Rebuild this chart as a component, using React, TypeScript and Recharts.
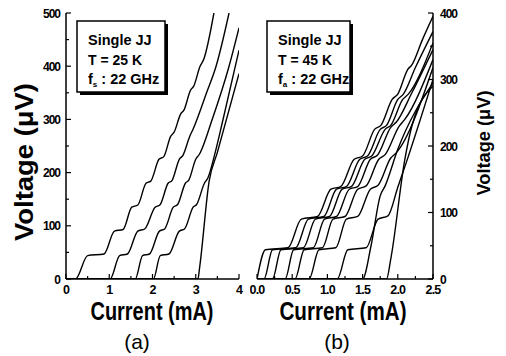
import React from 'react';
import { LineChart, Line, XAxis, YAxis } from 'recharts';

// ---------- axis ticks / labels ----------
const aXTicks = [0, 0.5, 1, 1.5, 2, 2.5, 3, 3.5, 4];
const aXLabels = [0, 1, 2, 3, 4];
const aYTicks = [0, 50, 100, 150, 200, 250, 300, 350, 400, 450, 500];
const aYLabels = [0, 100, 200, 300, 400, 500];
const bXTicks = [0, 0.25, 0.5, 0.75, 1, 1.25, 1.5, 1.75, 2, 2.25, 2.5];
const bXLabels = [0, 0.5, 1, 1.5, 2, 2.5];
const bYTicks = [0, 50, 100, 150, 200, 250, 300, 350, 400];
const bYLabels = [0, 100, 200, 300, 400];

// ---------- panel (a): T = 25 K, current (mA) vs voltage (uV) ----------
const a1: [number, number][] = [
  [0, 0], [0.22, 0], [0.5, 44], [0.88, 47], [1.12, 90], [1.32, 93], [1.52, 135], [1.66, 139],
  [1.85, 180], [1.96, 184], [2.15, 225], [2.26, 230], [2.42, 268], [2.5, 276], [2.65, 310],
  [2.73, 318], [2.88, 355], [2.95, 362], [3.1, 400], [3.18, 412], [3.42, 500],
];
const a2: [number, number][] = [
  [0, 0], [1.02, 0], [1.24, 44], [1.42, 47], [1.66, 90], [1.82, 94], [2.06, 135], [2.17, 139],
  [2.36, 180], [2.45, 185], [2.62, 225], [2.7, 232], [2.86, 268], [2.94, 282], [3.25, 350],
  [3.47, 400], [3.77, 500],
];
const a3: [number, number][] = [
  [0, 0], [1.6, 0], [1.77, 44], [1.93, 47], [2.16, 90], [2.28, 94], [2.48, 135], [2.58, 140],
  [2.76, 180], [2.84, 186], [3.0, 225], [3.08, 234], [3.38, 300], [3.77, 400], [4.0, 472],
];
const a4: [number, number][] = [
  [0, 0], [2.02, 0], [2.18, 44], [2.38, 47], [2.62, 90], [2.74, 94], [2.94, 135], [3.02, 140],
  [3.2, 180], [3.28, 190], [3.45, 238], [3.62, 296], [4.0, 430],
];
const a5: [number, number][] = [
  [0, 0], [3.05, 0], [3.09, 22], [3.31, 184], [3.5, 238], [4.0, 386],
];
const aCurves = [a1, a2, a3, a4, a5];

// ---------- panel (b): T = 45 K ----------
const b1: [number, number][] = [
  [0, 0], [0.12, 44], [0.44, 47], [0.63, 90], [0.86, 94], [1.05, 135], [1.19, 139], [1.38, 180],
  [1.5, 185], [1.67, 225], [1.76, 231], [1.92, 270], [2.0, 278], [2.14, 315], [2.2, 322],
  [2.35, 360], [2.5, 395],
];
const b2: [number, number][] = [
  [0, 0], [0.1, 0], [0.22, 44], [0.55, 47], [0.73, 90], [0.95, 94], [1.13, 135], [1.27, 139],
  [1.46, 180], [1.57, 185], [1.75, 225], [1.84, 231], [2.0, 270], [2.08, 278], [2.25, 318],
  [2.5, 372],
];
const b3: [number, number][] = [
  [0, 0], [0.22, 0], [0.34, 44], [0.66, 47], [0.83, 90], [1.03, 94], [1.21, 135], [1.34, 139],
  [1.53, 180], [1.63, 185], [1.82, 225], [1.9, 231], [2.07, 270], [2.15, 278], [2.5, 355],
];
const b4: [number, number][] = [
  [0, 0], [0.4, 0], [0.52, 44], [0.8, 47], [0.96, 90], [1.13, 94], [1.31, 135], [1.43, 139],
  [1.61, 180], [1.71, 186], [1.9, 228], [1.98, 236], [2.2, 280], [2.5, 345],
];
const b5: [number, number][] = [
  [0, 0], [0.54, 0], [0.67, 44], [0.93, 47], [1.08, 90], [1.25, 94], [1.43, 135], [1.55, 140],
  [1.73, 180], [1.82, 187], [2.02, 230], [2.1, 240], [2.5, 330],
];
const b6: [number, number][] = [
  [0, 0], [0.74, 0], [0.88, 44], [1.12, 47], [1.27, 90], [1.43, 94], [1.61, 135], [1.72, 141],
  [1.9, 182], [1.98, 190], [2.5, 318],
];
const b7: [number, number][] = [
  [0, 0], [1.14, 0], [1.29, 44], [1.55, 47], [1.72, 90], [1.86, 95], [2.0, 138], [2.12, 175],
  [2.5, 300],
];
const b8: [number, number][] = [
  [0, 0], [1.5, 0], [1.62, 50], [1.75, 125], [1.82, 140], [2.0, 195], [2.5, 295],
];
const b9: [number, number][] = [
  [0, 0], [1.84, 0], [1.9, 30], [2.1, 180], [2.2, 230], [2.5, 290],
];
const bCurves = [b1, b2, b3, b4, b5, b6, b7, b8, b9];

const toRows = (pts: [number, number][]) => pts.map(([i, v]) => ({ i, v }));

const F = "'Liberation Sans', Arial, Helvetica, sans-serif";
const isMajor = (labels: number[], v: number) => labels.some((l) => Math.abs(l - v) < 1e-9);

const makeXTick = (labels: number[], digits: number, side: 'bottom' | 'top') => (props: any) => {
  const { x, y, payload } = props;
  const v = payload.value as number;
  const major = isMajor(labels, v);
  const len = major ? 5 : 3;
  const dir = side === 'bottom' ? -1 : 1;
  return (
    <g>
      <line x1={x} y1={y} x2={x} y2={y + dir * len} stroke="#000" strokeWidth={1.2} />
      {side === 'bottom' && major ? (
        <text x={x} y={y + 15} textAnchor="middle" fontFamily={F} fontWeight="bold" fontSize={12.5} letterSpacing={-0.8} fill="#000">
          {v.toFixed(digits)}
        </text>
      ) : null}
    </g>
  );
};

const makeYTick = (labels: number[], side: 'left' | 'right', showLabel: boolean) => (props: any) => {
  const { x, y, payload } = props;
  const v = payload.value as number;
  const major = isMajor(labels, v);
  const len = major ? 5 : 3;
  const dir = side === 'left' ? 1 : -1;
  return (
    <g>
      <line x1={x} y1={y} x2={x + dir * len} y2={y} stroke="#000" strokeWidth={1.2} />
      {showLabel && major ? (
        <text
          x={side === 'left' ? x - 6 : x + 7}
          y={y + 4.5}
          textAnchor={side === 'left' ? 'end' : 'start'}
          fontFamily={F}
          fontWeight="bold"
          fontSize={12}
          letterSpacing={-1}
          fill="#000"
        >
          {v}
        </text>
      ) : null}
    </g>
  );
};

const axisLine = { stroke: '#000', strokeWidth: 1.5 };

export default function App() {
  return (
    <div style={{ position: 'absolute', left: 0, top: 0, width: 506, height: 356, background: '#fff', overflow: 'hidden' }}>
      {/* Panel (a) */}
      <div style={{ position: 'absolute', left: 0, top: 0 }}>
        <LineChart width={250} height={356} margin={{ top: 13, right: 11, bottom: 53, left: 0 }}>
          <XAxis xAxisId="b" dataKey="i" type="number" domain={[0, 4]} ticks={aXTicks} interval={0} height={24}
            tickSize={0} tickMargin={0} tickLine={false} axisLine={axisLine} allowDataOverflow tick={makeXTick(aXLabels, 0, 'bottom')} />
          <XAxis xAxisId="t" orientation="top" dataKey="i" type="number" domain={[0, 4]} ticks={aXTicks} interval={0} height={0}
            tickSize={0} tickMargin={0} tickLine={false} axisLine={axisLine} allowDataOverflow tick={makeXTick(aXLabels, 0, 'top')} />
          <YAxis yAxisId="l" type="number" domain={[0, 500]} ticks={aYTicks} interval={0} width={66}
            tickSize={0} tickMargin={0} tickLine={false} axisLine={axisLine} allowDataOverflow tick={makeYTick(aYLabels, 'left', true)} />
          <YAxis yAxisId="r" orientation="right" type="number" domain={[0, 500]} ticks={aYTicks} interval={0} width={0}
            tickSize={0} tickMargin={0} tickLine={false} axisLine={axisLine} allowDataOverflow tick={makeYTick(aYLabels, 'right', false)} />
          {aCurves.map((c, k) => (
            <Line key={k} xAxisId="b" yAxisId="l" data={toRows(c)} dataKey="v" type="monotone" stroke="#000"
              strokeWidth={1.4} dot={false} activeDot={false} isAnimationActive={false} />
          ))}
        </LineChart>
      </div>

      {/* Panel (b) */}
      <div style={{ position: 'absolute', left: 250, top: 0 }}>
        <LineChart width={256} height={356} margin={{ top: 13, right: 33, bottom: 53, left: 7 }}>
          <XAxis xAxisId="b" dataKey="i" type="number" domain={[0, 2.5]} ticks={bXTicks} interval={0} height={24}
            tickSize={0} tickMargin={0} tickLine={false} axisLine={axisLine} allowDataOverflow tick={makeXTick(bXLabels, 1, 'bottom')} />
          <XAxis xAxisId="t" orientation="top" dataKey="i" type="number" domain={[0, 2.5]} ticks={bXTicks} interval={0} height={0}
            tickSize={0} tickMargin={0} tickLine={false} axisLine={axisLine} allowDataOverflow tick={makeXTick(bXLabels, 1, 'top')} />
          <YAxis yAxisId="l" type="number" domain={[0, 400]} ticks={bYTicks} interval={0} width={0}
            tickSize={0} tickMargin={0} tickLine={false} axisLine={axisLine} allowDataOverflow tick={makeYTick(bYLabels, 'left', false)} />
          <YAxis yAxisId="r" orientation="right" type="number" domain={[0, 400]} ticks={bYTicks} interval={0} width={40}
            tickSize={0} tickMargin={0} tickLine={false} axisLine={axisLine} allowDataOverflow tick={makeYTick(bYLabels, 'right', true)} />
          {bCurves.map((c, k) => (
            <Line key={k} xAxisId="b" yAxisId="r" data={toRows(c)} dataKey="v" type="monotone" stroke="#000"
              strokeWidth={1.4} dot={false} activeDot={false} isAnimationActive={false} />
          ))}
        </LineChart>
      </div>

      {/* Titles, insets, panel letters */}
      <svg width={506} height={356} style={{ position: 'absolute', left: 0, top: 0, pointerEvents: 'none' }}>
        <g fontFamily={F} fill="#000">
          {/* inset (a) */}
          <rect x={80} y={24} width={88} height={71} fill="#000" />
          <rect x={77} y={21} width={88} height={71} fill="#fff" stroke="#000" strokeWidth={1.5} />
          <text x={88} y={45} fontSize={14.5} fontWeight="bold">Single JJ</text>
          <text x={88} y={65} fontSize={14.5} fontWeight="bold" textLength={54} lengthAdjust="spacingAndGlyphs">T = 25 K</text>
          <text x={88} y={84} fontSize={14.5} fontWeight="bold">
            f<tspan fontSize={8} dy={3}>s</tspan><tspan dy={-3}> : 22 GHz</tspan>
          </text>

          {/* inset (b) */}
          <rect x={270} y={24} width={83} height={71} fill="#000" />
          <rect x={267} y={21} width={83} height={71} fill="#fff" stroke="#000" strokeWidth={1.5} />
          <text x={278} y={45} fontSize={14.5} fontWeight="bold">Single JJ</text>
          <text x={278} y={65} fontSize={14.5} fontWeight="bold" textLength={54} lengthAdjust="spacingAndGlyphs">T = 45 K</text>
          <text x={278} y={84} fontSize={14.5} fontWeight="bold">
            f<tspan fontSize={8} dy={3}>a</tspan><tspan dy={-3}> : 22 GHz</tspan>
          </text>

          {/* axis titles */}
          <text transform="translate(33,162) rotate(-90)" textAnchor="middle" fontSize={25} fontWeight="bold"
            textLength={158} lengthAdjust="spacingAndGlyphs">Voltage (μV)</text>
          <text transform="translate(490,143) rotate(-90)" textAnchor="middle" fontSize={18} fontWeight="bold"
            textLength={105} lengthAdjust="spacingAndGlyphs">Voltage (μV)</text>
          <text x={152} y={320} textAnchor="middle" fontSize={25} fontWeight="bold" textLength={123}
            lengthAdjust="spacingAndGlyphs">Current (mA)</text>
          <text x={343} y={320} textAnchor="middle" fontSize={25} fontWeight="bold" textLength={127}
            lengthAdjust="spacingAndGlyphs">Current (mA)</text>

          {/* panel letters */}
          <text x={137} y={349} textAnchor="middle" fontSize={21}>(a)</text>
          <text x={337} y={349} textAnchor="middle" fontSize={21}>(b)</text>
        </g>
      </svg>
    </div>
  );
}
